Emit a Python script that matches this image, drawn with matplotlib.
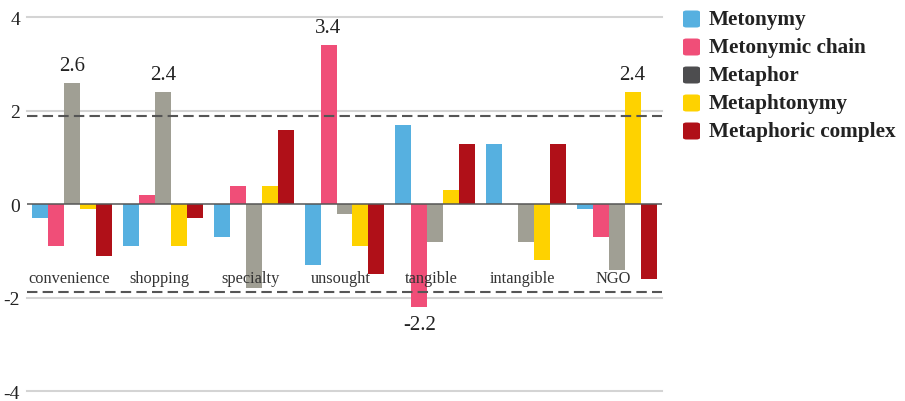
import matplotlib
matplotlib.use("Agg")
import matplotlib.pyplot as plt
from matplotlib.patches import FancyBboxPatch
import numpy as np

plt.rcParams['font.family'] = ['Liberation Serif', 'DejaVu Serif']

categories = ["convenience", "shopping", "specialty", "unsought", "tangible", "intangible", "NGO"]
series_names = ["Metonymy", "Metonymic chain", "Metaphor", "Metaphtonymy", "Metaphoric complex"]

metonymy = [-0.3, -0.9, -0.7, -1.3, 1.7, 1.3, -0.1]
metonymic_chain = [-0.9, 0.2, 0.4, 3.4, -2.2, 0.0, -0.7]
metaphor = [2.6, 2.4, -1.8, -0.2, -0.8, -0.8, -1.4]
metaphtonymy = [-0.1, -0.9, 0.4, -0.9, 0.3, -1.2, 2.4]
metaphoric_complex = [-1.1, -0.3, 1.6, -1.5, 1.3, 1.3, -1.6]

yticks = [-4, -2, 0, 2, 4]
threshold = 1.88

bar_colors = ["#56b0e0", "#f04e78", "#a09f94", "#fed200", "#b01018"]
legend_colors = ["#56b0e0", "#f04e78", "#4d4d4f", "#fed200", "#b01018"]

series = [metonymy, metonymic_chain, metaphor, metaphtonymy, metaphoric_complex]

fig = plt.figure(figsize=(9.05, 4.02), dpi=100)
ax = fig.add_axes([27 / 905, 1 - 392.3 / 402, (662 - 27) / 905, (392.3 - 18.3) / 402])
ax.set_xlim(-0.5, len(categories) - 0.5)
ax.set_ylim(-4, 4)

# gridlines
for t in yticks:
    if t != 0:
        ax.axhline(t, color="#d4d4d4", lw=1.5, zorder=0, clip_on=False)

x = np.arange(len(categories))
bw = 0.176
for i, (vals, col) in enumerate(zip(series, bar_colors)):
    pos = x + (i - 2) * bw
    ax.bar(pos, vals, width=bw, color=col, edgecolor="none", zorder=2)
    for px, v in zip(pos, vals):
        if abs(v) > threshold:
            if v > 0:
                ax.text(px, v + 0.17, f"{v:.1f}", ha="center", va="bottom",
                        fontsize=15, color="#222222", zorder=4)
            else:
                ax.text(px, v - 0.17, f"{v:.1f}", ha="center", va="top",
                        fontsize=15, color="#222222", zorder=4)

# zero line and significance bands
ax.axhline(0, color="#555555", lw=1.1, zorder=3)
for t in (threshold, -threshold):
    ax.axhline(t, color="#555555", lw=1.5, ls=(0, (5, 2.5)), zorder=3)

# category labels
for xi, c in zip(x, categories):
    ax.text(xi - 0.04, -1.58, c, ha="center", va="center", fontsize=11.8,
            color="#333333", zorder=5)

ax.set_yticks(yticks)
ax.set_yticklabels([str(t) for t in yticks], fontsize=14, color="#222222")
ax.tick_params(axis="y", length=0, pad=5)
for lab in ax.get_yticklabels():
    lab.set_verticalalignment("center_baseline")
ax.set_xticks([])
for s in ax.spines.values():
    s.set_visible(False)

# legend with rounded swatches
row0 = 20
step = 28
for i, (name, col) in enumerate(zip(series_names, legend_colors)):
    yc = 1 - (row0 + i * step) / 402
    sw = 17 / 905
    sh = 17 / 402
    patch = FancyBboxPatch((683 / 905, yc - sh / 2), sw, sh,
                           boxstyle="round,pad=0,rounding_size=0.004",
                           transform=fig.transFigure, facecolor=col,
                           edgecolor="none")
    fig.add_artist(patch)
    fig.text(709 / 905, yc, name, ha="left", va="center", fontsize=15.3,
             fontweight="bold", color="#222222")

fig.savefig("out.png", dpi=100)
